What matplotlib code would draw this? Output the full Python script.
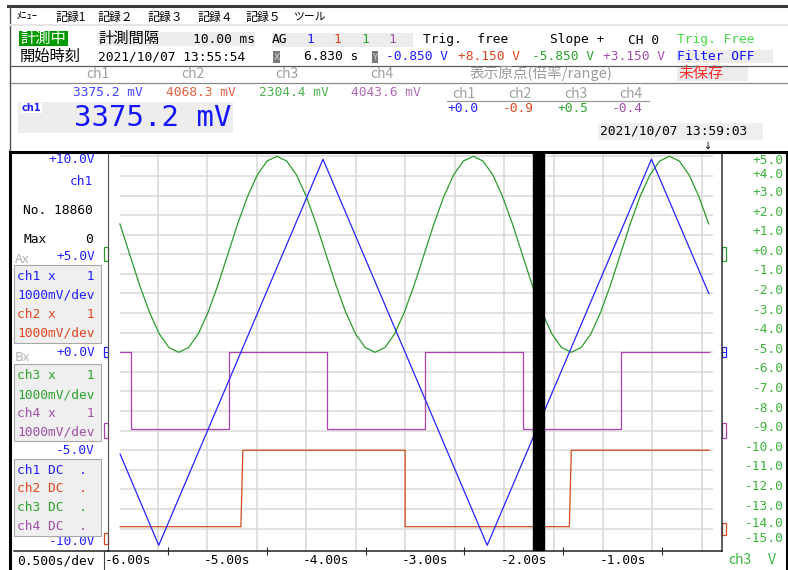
import numpy as np
import matplotlib.pyplot as plt
from matplotlib.patches import Rectangle
from matplotlib.lines import Line2D
from matplotlib.transforms import blended_transform_factory

W, H = 788, 570
MONO = ['DejaVu Sans Mono', 'Noto Sans CJK JP']
JP = ['Noto Sans CJK JP', 'DejaVu Sans']
FS = 9.3

# colours per channel
TEXT_COLORS = ['#2020ff', '#e0461e', '#2ca42c', '#a24eaa']
LINE_COLORS = ['#2424ff', '#d24a1e', '#2c9c2c', '#b040b4']
GRID = '#d9d9d9'

# header readouts
MENU = ['ﾒﾆｭｰ', '記録1', '記録２', '記録３', '記録４', '記録５', 'ツール']
CH_NAMES = ['ch1', 'ch2', 'ch3', 'ch4']
CH_READINGS = ['3375.2 mV', '4068.3 mV', '2304.4 mV', '4043.6 mV']
ORIGINS = ['+0.0', '-0.9', '+0.5', '-0.4']
CURSOR_Y = ['-0.850 V', '+8.150 V', '-5.850 V', '+3.150 V']
AG_GAINS = ['1', '1', '1', '1']
START_TIME = '2021/10/07 13:55:54'
END_TIME = '2021/10/07 13:59:03'
BIG_VALUE = '3375.2 mV'

# waveforms: time [s], value on the ch3 scale [V]
CH1_T = [-6.08, -5.69, -4.03, -2.37, -0.71, -0.13]
CH1_V = [-10.2, -14.85, 4.85, -14.85, 4.85, -2.0]

CH2_T = [-6.08, -4.86, -4.84, -3.20, -3.20, -1.54, -1.52, -0.13]
CH2_V = [-13.9, -13.9, -10.0, -10.0, -13.9, -13.9, -10.0, -10.0]

CH3_T0 = -6.083
CH3_DT = 0.0992
CH3_V = [1.55, 0.0, -1.55, -2.94, -4.05, -4.76, -5.0, -4.76, -4.05, -2.94,
         -1.55, 0.0, 1.55, 2.94, 4.05, 4.76, 5.0, 4.76, 4.05, 2.94,
         1.55, 0.0, -1.55, -2.94, -4.05, -4.76, -5.0, -4.76, -4.05, -2.94,
         -1.55, 0.0, 1.55, 2.94, 4.05, 4.76, 5.0, 4.76, 4.05, 2.94,
         1.55, 0.0, -1.55, -2.94, -4.05, -4.76, -5.0, -4.76, -4.05, -2.94,
         -1.55, 0.0, 1.55, 2.94, 4.05, 4.76, 5.0, 4.76, 4.05, 2.94,
         1.55]

CH4_T = [-6.08, -5.975, -5.975, -4.983, -4.983, -3.991, -3.991, -2.999, -2.999,
         -2.007, -2.007, -1.015, -1.015, -0.13]
CH4_V = [-5.0, -5.0, -8.9, -8.9, -5.0, -5.0, -8.9, -8.9, -5.0,
         -5.0, -8.9, -8.9, -5.0, -5.0]

CURSOR_T = -1.85

RIGHT_VALS = list(range(5, -16, -1))
LEFT_VALS = [5, 0, -5, -10, -15]
LEFT_LABELS = ['+10.0V', '+5.0V', '+0.0V', '-5.0V', '-10.0V']
TIME_LABELS = [-6, -5, -4, -3, -2, -1]
TIME_MARKS = [-5.6, -4.6, -3.6, -2.6, -1.6, -0.6]
# channel origin markers (right side / left side)
MARK_R = [0.0, -5.0, -9.0, -14.0]
MARK_L = [0.0, -5.0, -9.0, -14.5]

fig = plt.figure(figsize=(W / 100, H / 100), dpi=100)
fig.patch.set_facecolor('white')


def fx(x):
    return x / W


def fy(y):
    return 1 - y / H


def put(x, y, s, color='black', size=FS, ha='left', family=MONO, **kw):
    return fig.text(fx(x), fy(y), s, color=color, fontsize=size, ha=ha,
                    va='center', family=family, **kw)


def box(x0, y0, x1, y1, fc='none', ec='none', lw=0, z=1):
    fig.add_artist(Rectangle((fx(x0), fy(y1)), (x1 - x0) / W, (y1 - y0) / H,
                             transform=fig.transFigure, facecolor=fc,
                             edgecolor=ec, linewidth=lw, zorder=z))


def seg(x0, y0, x1, y1, color='#404040', lw=0.8, z=2):
    fig.add_artist(Line2D([fx(x0), fx(x1)], [fy(y0), fy(y1)],
                          transform=fig.transFigure, color=color,
                          linewidth=lw, zorder=z))


# ---------------- window chrome / header ----------------
seg(8, 6, 788, 6, '#3a3a3a', 2.2)
seg(9.5, 6, 9.5, 570, '#505050', 1.0)
seg(10, 25, 788, 25, '#e6e6e6', 1.4)

menu_x = [17, 55, 98, 148, 197, 246, 294]
menu_fs = [7.5, 8.6, 8.6, 8.6, 8.6, 8.6, 7.8]
for x, s, f in zip(menu_x, MENU, menu_fs):
    put(x, 17, s, size=f, family=JP)

# row 1
box(19.3, 31, 68.3, 46, fc='#009a00')
put(20, 38.5, '計測中', color='white', size=11, family=JP)
box(96.7, 31.5, 255, 46, fc='#ececec')
put(98, 38.5, '計測間隔', size=11, family=JP)
put(255, 39.5, '10.00 ms', ha='right')
box(271.7, 32.5, 413.3, 46.5, fc='#ececec')
put(271.7, 39.5, 'AG')
for x, g, c in zip([310, 337.3, 365, 392.7], AG_GAINS, TEXT_COLORS):
    put(x, 39.5, g, color=c, ha='center')
put(422.7, 39.5, 'Trig.  free')
put(550, 40, 'Slope +')
put(628.3, 40, 'CH 0')
put(676.7, 40, 'Trig. Free', color='#44dd44')

# row 2
put(19.3, 56.5, '開始時刻', size=11, family=JP)
put(98.3, 57, START_TIME)
box(273.3, 50.7, 280, 63.3, fc='#7a7a7a')
put(276.6, 57, 'X', color='#d0d0d0', size=6.5, ha='center', family=['DejaVu Sans'])
put(358.3, 57, '6.830 s', ha='right')
box(371.7, 50.7, 378.3, 63.3, fc='#7a7a7a')
put(375, 57, 'Y', color='#d0d0d0', size=6.5, ha='center', family=['DejaVu Sans'])
box(676.7, 50, 773.3, 63.3, fc='#ececec')
for x, s, c in zip([386, 458.3, 531.7, 603.3], CURSOR_Y, TEXT_COLORS):
    put(x, 57, s, color=c)
put(676.7, 57, 'Filter OFF', color='#1010ff')
seg(11, 65.7, 788, 65.7, '#5a5a5a', 0.9)

# row 3
for x, s in zip([98.3, 193.3, 287.3, 381.7], CH_NAMES):
    put(x, 74.5, s, color='#a0a0a0', size=10, ha='center', family=JP)
put(470, 73.5, '表示原点(倍率/range)', color='#9a9a9a', size=10.5, family=JP)
box(676.7, 66.7, 748, 80.7, fc='#ececec')
put(678, 73.5, '未保存', color='#ff2a2a', size=10.8, family=JP)
seg(11, 82.7, 788, 82.7, '#8a8a8a', 0.9)

# row 4 : readings and origin table
for x, s, c in zip([72.7, 165.7, 259.3, 351], CH_READINGS, TEXT_COLORS):
    put(x, 92.3, s, color=c, alpha=0.85)
for x, s in zip([464, 520, 576, 631], CH_NAMES):
    put(x, 93.5, s, color='#a0a0a0', size=10, ha='center', family=JP)
seg(446.7, 100.7, 649, 100.7, '#9a9a9a', 0.9)
for x, s, c in zip([463, 518.5, 573, 627], ORIGINS, TEXT_COLORS):
    put(x, 109, s, color=c, ha='center')

# big reading
box(18.3, 101.7, 232.7, 133.3, fc='#ededed')
box(20.7, 102.7, 41.7, 113.3, fc='white')
put(31.2, 108, 'ch1', color='#2020ff', size=7, ha='center',
    family=['DejaVu Sans'], fontweight='bold')
put(74, 117.5, BIG_VALUE, color='#1414ff', size=20.9)

box(598.3, 123.3, 763.3, 140, fc='#efefef')
put(600, 131.5, END_TIME)
put(708.3, 146, '↓', size=7, ha='center', family=['DejaVu Sans'])

# ---------------- plot area ----------------
AX_L, AX_R, AX_T, AX_B = 108.3, 721.7, 152, 551
ax = fig.add_axes([fx(AX_L), fy(AX_B), (AX_R - AX_L) / W, (AX_B - AX_T) / H])
ax.set_xlim(-6.2, 0.0)
ax.set_ylim(-15.14, 5.22)
ax.set_facecolor('white')

for k in range(1, 13):
    ax.axvline(-6.2 + 0.5 * k, color=GRID, lw=1.1, zorder=0)
ax.hlines(RIGHT_VALS[:-1], -6.085, -0.083, color=GRID, lw=1.1, zorder=0)

ch3_t = CH3_T0 + CH3_DT * np.arange(len(CH3_V))
ax.plot(CH2_T, CH2_V, color=LINE_COLORS[1], lw=0.9, zorder=2)
ax.plot(CH4_T, CH4_V, color=LINE_COLORS[3], lw=0.9, zorder=2)
ax.plot(ch3_t, CH3_V, color=LINE_COLORS[2], lw=0.9, zorder=2)
ax.plot(CH1_T, CH1_V, color=LINE_COLORS[0], lw=0.9, zorder=3)
ax.axvspan(CURSOR_T - 0.054, CURSOR_T + 0.054, color='black', zorder=4)

ax.set_xticks(TIME_MARKS)
ax.set_xticklabels([])
ax.set_yticks([])
ax.tick_params(axis='x', direction='inout', length=6, width=0.8, color='#303030')
ax.spines['top'].set_visible(False)
ax.spines['left'].set_color('#505050')
ax.spines['left'].set_linewidth(0.8)
ax.spines['right'].set_color('#303030')
ax.spines['right'].set_linewidth(1.1)
ax.spines['bottom'].set_color('#202020')
ax.spines['bottom'].set_linewidth(1.1)

# time labels below the axis
tb = blended_transform_factory(ax.transData, fig.transFigure)
for t in TIME_LABELS:
    ax.text(t, fy(560.5), '%.2fs' % t, transform=tb, ha='center', va='center',
            fontsize=FS, family=MONO, clip_on=False)

# right scale (ch3)
rb = blended_transform_factory(ax.transAxes, ax.transData)
right_dy = {5: -0.22, 4: 0.07, -14: 0.25, -15: 0.5}
for v in RIGHT_VALS:
    dy = right_dy.get(v, 0.15)
    ax.text(1.1004, v + dy, '%+.1f' % v, transform=rb, ha='right', va='center',
            fontsize=FS, family=MONO, color='#3cb43c', clip_on=False)

# left scale (ch1)
left_dy = [-0.18, -0.09, -0.02, -0.03, 0.34]
for v, s, dy in zip(LEFT_VALS, LEFT_LABELS, left_dy):
    ax.text(-0.0217, v + dy, s, transform=rb, ha='right', va='center',
            fontsize=FS, family=MONO, color='#2020ff', clip_on=False)

# origin markers
mark_style = [(LINE_COLORS[2], 0.72), (LINE_COLORS[0], 0.5),
              (LINE_COLORS[3], 0.75), (LINE_COLORS[1], 0.6)]
for vr, vl, (c, h) in zip(MARK_R, MARK_L, mark_style):
    ax.add_patch(Rectangle((1.0008, vr - h / 2), 0.0065, h, transform=rb,
                           fill=False, edgecolor=c, lw=0.9, clip_on=False))
    ax.add_patch(Rectangle((-0.0075, vl - h / 2), 0.0065, h, transform=rb,
                           fill=False, edgecolor=c, lw=0.9, clip_on=False))
for xa in (1.0008, -0.0075):
    ax.plot([xa, xa + 0.0065], [-5.0, -5.0], transform=rb, color=LINE_COLORS[0],
            lw=0.7, clip_on=False)

# ---------------- left panel ----------------
put(93.3, 181.7, 'ch1', color='#2020ff', ha='right')
put(93, 210, 'No. 18860', ha='right')
put(23.3, 239.3, 'Max')
put(93, 239.3, '0', ha='right')

put(15, 259, 'Ax', color='#b4b4b4', size=9.5, family=JP)
box(14, 265, 100.7, 342.7, fc='#efefef', ec='#a8a8a8', lw=0.8)
for y, s, c in zip([276.7, 295, 314, 332.7],
                   ['ch1 x    1', '1000mV/dev', 'ch2 x    1', '1000mV/dev'],
                   [TEXT_COLORS[0], TEXT_COLORS[0], TEXT_COLORS[1], TEXT_COLORS[1]]):
    put(17.3, y, s, color=c)

put(15, 357.5, 'Bx', color='#b4b4b4', size=9.5, family=JP)
box(14, 364, 100.7, 440.7, fc='#efefef', ec='#a8a8a8', lw=0.8)
for y, s, c in zip([375.3, 395, 413.3, 431.7],
                   ['ch3 x    1', '1000mV/dev', 'ch4 x    1', '1000mV/dev'],
                   [TEXT_COLORS[2], TEXT_COLORS[2], TEXT_COLORS[3], TEXT_COLORS[3]]):
    put(17.3, y, s, color=c)

box(14, 459.3, 100.7, 536, fc='#efefef', ec='#a8a8a8', lw=0.8)
for y, name, c in zip([470, 488.3, 507.3, 526.7], CH_NAMES, TEXT_COLORS):
    put(17.3, y, name + ' DC  .', color=c)

# bottom strip
seg(14, AX_B, AX_L, AX_B, '#202020', 1.1)
seg(104, AX_B, 104, 570, '#404040', 0.8)
put(17, 561, '0.500s/dev')
put(728, 560, 'ch3', color='#3cb43c', size=10, family=JP)
put(768, 560, 'V', color='#3cb43c', size=10, family=JP)

# outer frame
box(10, 152, 786.7, 575, ec='black', lw=2.2, z=5)

fig.savefig('out.png', dpi=100, facecolor='white')
